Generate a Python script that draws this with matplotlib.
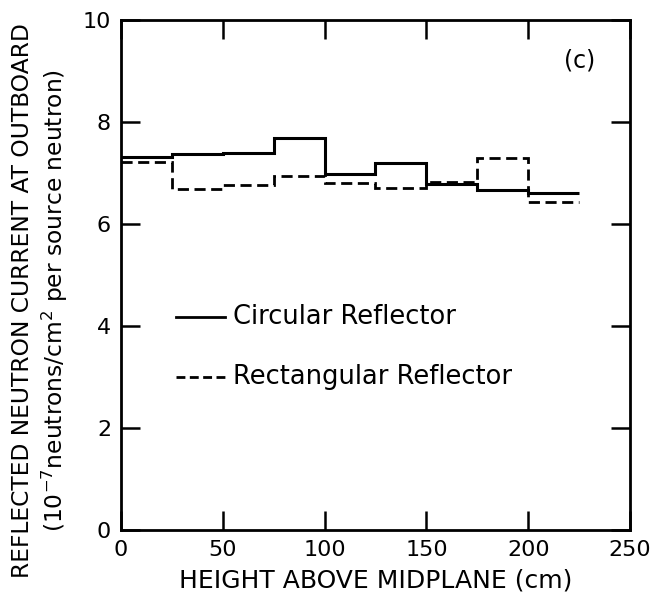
import matplotlib
matplotlib.use("Agg")
import matplotlib.pyplot as plt

plt.rcParams['font.family'] = ['DejaVu Sans']

# bin edges (cm) and reflected current per bin (1e-7 n/cm^2 per source neutron)
edges = [0, 25, 50, 75, 100, 125, 150, 175, 200, 225]
circular = [7.32, 7.37, 7.39, 7.68, 6.98, 7.20, 6.79, 6.66, 6.60]
rectangular = [7.22, 6.68, 6.76, 6.94, 6.81, 6.70, 6.82, 7.29, 6.44]

xticks = [0, 50, 100, 150, 200, 250]
yticks = [0, 2, 4, 6, 8, 10]

fig = plt.figure(figsize=(6.53, 6.06), dpi=100)
ax = fig.add_axes([0.185, 0.125, 0.78, 0.842])

ax.stairs(circular, edges, baseline=None, color='black', lw=2.2)
ax.stairs(rectangular, edges, baseline=None, color='black', lw=2.0,
          linestyle=(0, (4, 2)))

# hand-drawn style legend inside the plot
ax.plot([27, 51], [4.18, 4.18], color='black', lw=2.0)
ax.plot([27, 51], [3.0, 3.0], color='black', lw=2.0, linestyle=(0, (3.2, 1.6)))
ax.text(55, 4.18, 'Circular Reflector', fontsize=18.5, va='center', ha='left')
ax.text(55, 3.0, 'Rectangular Reflector', fontsize=18.5, va='center', ha='left')

ax.text(225, 9.2, '(c)', fontsize=17, va='center', ha='center')

ax.set_xlim(0, 250)
ax.set_ylim(0, 10)
ax.set_xticks(xticks)
ax.set_yticks(yticks)
ax.tick_params(direction='in', length=14, width=1.8, top=True, right=True,
               labelsize=16, pad=7)
for s in ax.spines.values():
    s.set_linewidth(2.0)

ax.set_xlabel('HEIGHT ABOVE MIDPLANE (cm)', fontsize=18, labelpad=6)
ax.set_ylabel('REFLECTED NEUTRON CURRENT AT OUTBOARD\n'
              '(10$^{-7}$neutrons/cm$^{2}$ per source neutron)',
              fontsize=16.8, linespacing=1.25)
ax.yaxis.set_label_coords(-0.10, 0.45)

fig.savefig('out.png', dpi=100)
